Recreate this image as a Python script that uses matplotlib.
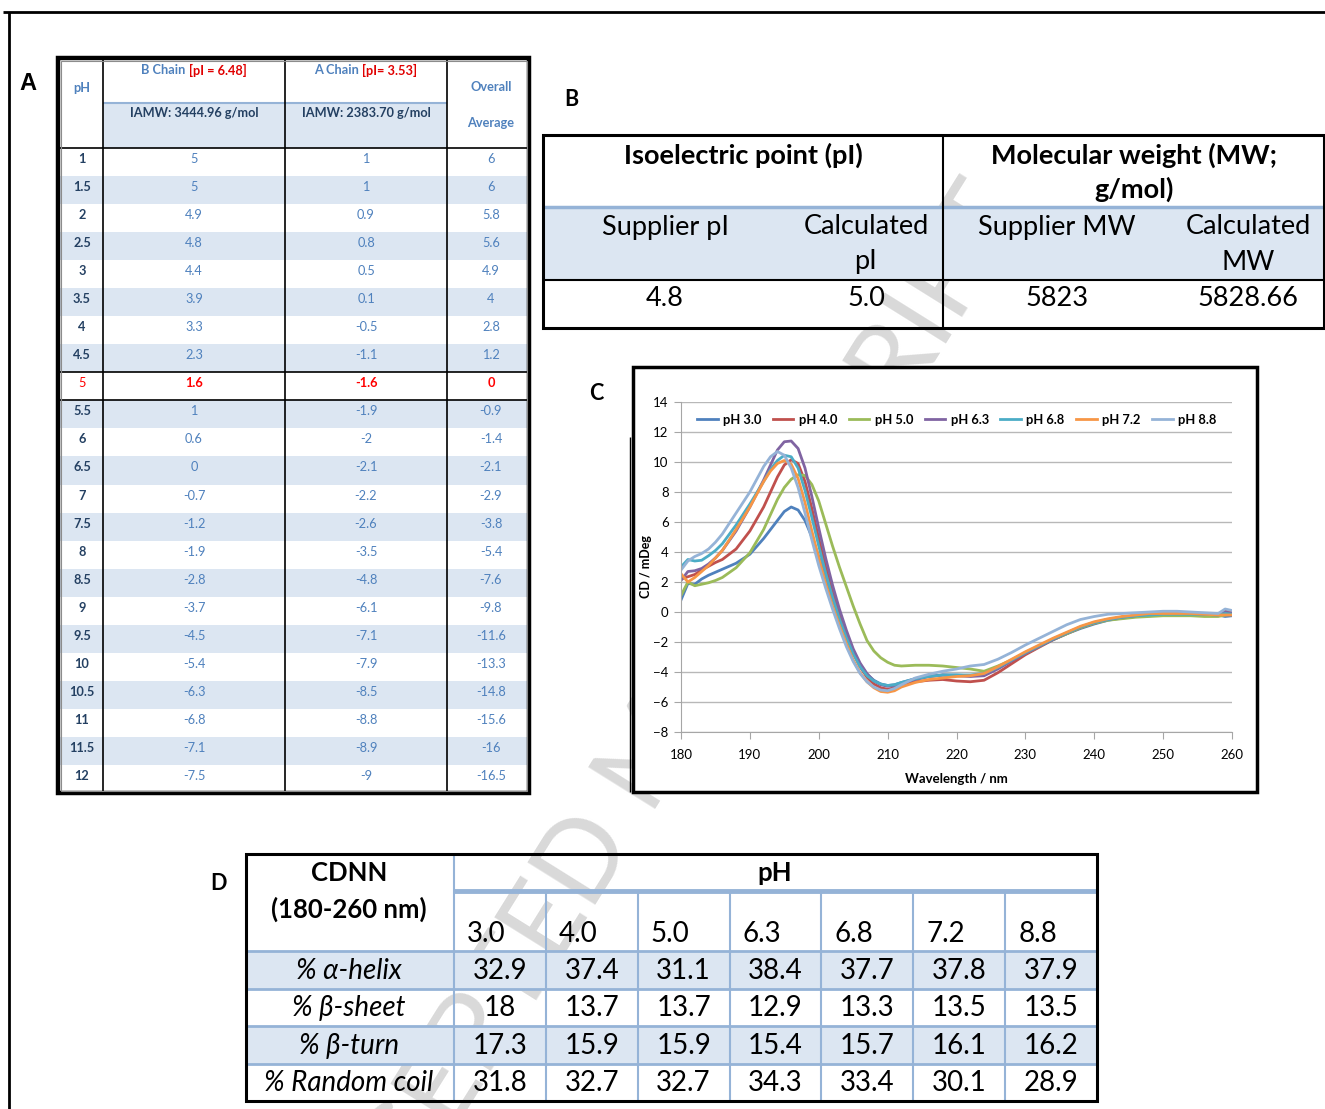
import matplotlib
matplotlib.use('Agg')
import numpy as np
import matplotlib.pyplot as plt
from matplotlib.patches import Rectangle

plt.rcParams['font.family'] = ['Lato', 'DejaVu Sans']

W, H = 1325, 1109

# --- A: net charge of each chain vs pH ---
ph_steps = [1, 1.5, 2, 2.5, 3, 3.5, 4, 4.5, 5, 5.5, 6, 6.5, 7, 7.5, 8, 8.5, 9, 9.5,
            10, 10.5, 11, 11.5, 12]
b_chain = [5, 5, 4.9, 4.8, 4.4, 3.9, 3.3, 2.3, 1.6, 1, 0.6, 0, -0.7, -1.2, -1.9, -2.8,
           -3.7, -4.5, -5.4, -6.3, -6.8, -7.1, -7.5]
a_chain = [1, 1, 0.9, 0.8, 0.5, 0.1, -0.5, -1.1, -1.6, -1.9, -2, -2.1, -2.2, -2.6, -3.5,
           -4.8, -6.1, -7.1, -7.9, -8.5, -8.8, -8.9, -9]
overall = [6, 6, 5.8, 5.6, 4.9, 4, 2.8, 1.2, 0, -0.9, -1.4, -2.1, -2.9, -3.8, -5.4, -7.6,
           -9.8, -11.6, -13.3, -14.8, -15.6, -16, -16.5]

# --- B: pI and MW ---
supplier_pi, calculated_pi = 4.8, 5.0
supplier_mw, calculated_mw = 5823, 5828.66

# --- C: CD spectra ---
wavelength = [180, 181, 182, 183, 184, 185, 186, 188, 190, 192, 193, 194, 195, 196, 197,
              198, 199, 200, 201, 202, 203, 204, 205, 206, 207, 208, 209, 210, 211, 212,
              214, 216, 218, 220, 222, 224, 226, 228, 230, 232, 234, 236, 238, 240, 242,
              244, 246, 248, 250, 252, 254, 256, 258, 259, 260]
cd_ph30 = [0.8, 1.9, 1.85, 2.2, 2.45, 2.65, 2.85, 3.25, 3.85, 4.9, 5.5, 6.1, 6.7, 7.0, 6.8,
           6.1, 5.0, 3.7, 2.3, 0.9, -0.4, -1.6, -2.7, -3.5, -4.15, -4.55, -4.8, -4.9, -4.85, -4.7,
           -4.45, -4.3, -4.2, -4.2, -4.25, -4.2, -3.75, -3.25, -2.75, -2.3, -1.85, -1.45, -1.1, -0.8, -0.55,
           -0.4, -0.3, -0.25, -0.2, -0.2, -0.2, -0.2, -0.2, -0.3, -0.25]
cd_ph40 = [2.2, 2.35, 2.5, 2.8, 3.05, 3.3, 3.5, 4.2, 5.4, 7.0, 8.0, 9.0, 9.8, 10.15, 9.9,
           8.7, 6.9, 4.9, 3.0, 1.3, -0.2, -1.5, -2.7, -3.65, -4.35, -4.8, -5.05, -5.15, -5.05, -4.85,
           -4.65, -4.55, -4.5, -4.6, -4.65, -4.55, -4.05, -3.45, -2.85, -2.35, -1.85, -1.45, -1.05, -0.75, -0.5,
           -0.35, -0.25, -0.2, -0.15, -0.15, -0.15, -0.2, -0.2, 0.1, 0.0]
cd_ph50 = [1.1, 2.0, 1.75, 1.85, 1.95, 2.1, 2.3, 2.95, 3.95, 5.5, 6.5, 7.5, 8.3, 8.85, 9.15,
           9.1, 8.5, 7.4, 5.9, 4.4, 3.0, 1.7, 0.4, -0.8, -1.9, -2.6, -3.05, -3.35, -3.55, -3.6,
           -3.55, -3.55, -3.6, -3.7, -3.8, -3.95, -3.6, -3.2, -2.75, -2.3, -1.85, -1.45, -1.05, -0.75, -0.55,
           -0.45, -0.35, -0.3, -0.25, -0.25, -0.25, -0.3, -0.3, -0.2, -0.15]
cd_ph63 = [2.1, 2.7, 2.75, 2.9, 3.2, 3.6, 4.1, 5.4, 7.0, 8.8, 9.8, 10.8, 11.35, 11.4, 10.9,
           9.6, 7.7, 5.6, 3.6, 1.8, 0.2, -1.2, -2.45, -3.4, -4.1, -4.6, -4.85, -4.95, -4.9, -4.75,
           -4.5, -4.3, -4.2, -4.25, -4.3, -4.25, -3.8, -3.25, -2.75, -2.3, -1.85, -1.4, -1.0, -0.7, -0.5,
           -0.35, -0.25, -0.15, -0.1, -0.1, -0.1, -0.15, -0.2, 0.0, -0.1]
cd_ph68 = [3.0, 3.5, 3.4, 3.45, 3.75, 4.1, 4.55, 5.8, 7.2, 8.7, 9.5, 10.1, 10.45, 10.35, 9.6,
           8.1, 6.3, 4.4, 2.6, 1.0, -0.45, -1.7, -2.8, -3.65, -4.25, -4.6, -4.8, -4.9, -4.85, -4.7,
           -4.45, -4.3, -4.2, -4.2, -4.2, -4.1, -3.7, -3.2, -2.7, -2.25, -1.8, -1.4, -1.0, -0.7, -0.5,
           -0.35, -0.25, -0.2, -0.15, -0.15, -0.15, -0.15, -0.2, -0.1, -0.15]
cd_ph72 = [2.55, 2.0, 2.3, 2.7, 3.1, 3.6, 4.1, 5.5, 7.0, 8.7, 9.4, 9.9, 10.1, 9.85, 8.9,
           7.3, 5.4, 3.6, 1.9, 0.4, -0.9, -2.1, -3.2, -4.05, -4.65, -5.05, -5.3, -5.35, -5.25, -5.0,
           -4.7, -4.5, -4.4, -4.3, -4.25, -4.1, -3.65, -3.15, -2.65, -2.2, -1.75, -1.35, -0.95, -0.65, -0.45,
           -0.3, -0.2, -0.1, -0.1, -0.1, -0.1, -0.15, -0.2, -0.2, -0.2]
cd_ph88 = [2.8, 3.4, 3.7, 3.9, 4.2, 4.65, 5.2, 6.6, 8.0, 9.7, 10.35, 10.7, 10.45, 9.6, 8.3,
           6.6, 4.8, 3.1, 1.6, 0.2, -1.1, -2.3, -3.3, -4.1, -4.65, -5.0, -5.2, -5.25, -5.1, -4.85,
           -4.4, -4.15, -3.95, -3.8, -3.6, -3.5, -3.15, -2.7, -2.2, -1.75, -1.3, -0.85, -0.5, -0.3, -0.15,
           -0.1, -0.05, 0.0, 0.05, 0.05, 0.0, -0.05, -0.1, 0.2, 0.1]
spectra = [cd_ph30, cd_ph40, cd_ph50, cd_ph63, cd_ph68, cd_ph72, cd_ph88]
spectra_labels = ['pH 3.0', 'pH 4.0', 'pH 5.0', 'pH 6.3', 'pH 6.8', 'pH 7.2', 'pH 8.8']
spectra_colors = ['#4F81BD', '#C0504D', '#9BBB59', '#8064A2', '#4BACC6', '#F79646', '#95B3D7']

# --- D: CDNN secondary structure ---
cdnn_ph = ['3.0', '4.0', '5.0', '6.3', '6.8', '7.2', '8.8']
structures = ['% α-helix', '% β-sheet', '% β-turn', '% Random coil']
fractions = [[32.9, 37.4, 31.1, 38.4, 37.7, 37.8, 37.9],
             [18, 13.7, 13.7, 12.9, 13.3, 13.5, 13.5],
             [17.3, 15.9, 15.9, 15.4, 15.7, 16.1, 16.2],
             [31.8, 32.7, 32.7, 34.3, 33.4, 30.1, 28.9]]

LB_FILL = '#DCE6F2'
LB_LINE = '#95B3D7'
VAL_BLUE = '#4F81BD'
NAVY = '#244062'
FS_A = 9.2     # table A
FS_B = 19.5    # table B
FS_D = 20      # table D body
FS_DH = 18.5   # table D header

fig = plt.figure(figsize=(W / 100, H / 100), dpi=100)
base = fig.add_axes([0, 0, 1, 1])
base.set_xlim(0, W)
base.set_ylim(H, 0)
base.axis('off')


def box(x0, y0, x1, y1, **kw):
    base.add_patch(Rectangle((x0, y0), x1 - x0, y1 - y0, **kw))


def hline(y, x0, x1, color='black', lw=1.0, z=3):
    base.plot([x0, x1], [y, y], color=color, lw=lw, solid_capstyle='butt', zorder=z)


def vline(x, y0, y1, color='black', lw=1.0, z=3):
    base.plot([x, x], [y0, y1], color=color, lw=lw, solid_capstyle='butt', zorder=z)


def txt(x, y, s, size, ha='center', va='center', **kw):
    return base.text(x, y, s, fontsize=size, ha=ha, va=va, zorder=5, **kw)


def two_tone(x, y, parts, size):
    pieces = [txt(0, y, s, size, ha='left', color=c, fontweight='bold') for s, c in parts]
    fig.canvas.draw()
    r = fig.canvas.get_renderer()
    widths = [p.get_window_extent(r).width for p in pieces]
    gap = 3
    x0 = x - (sum(widths) + gap * (len(widths) - 1)) / 2
    for p, w in zip(pieces, widths):
        p.set_x(x0)
        x0 += w + gap


# watermark running diagonally under the panels
base.text(655, 752, 'ACCEPTED MANUSCRIPT', rotation=58, fontsize=80, color='#D9D9D9',
          ha='center', va='center', zorder=0, rotation_mode='anchor', clip_on=True)

# page frame
hline(12, 3, W, lw=2)
vline(9, 12, H, lw=2)

# panel letters
txt(28, 83, 'A', 17, fontweight='bold', family='Liberation Sans')
txt(571, 99, 'B', 15.5, fontweight='bold')
txt(596, 394, 'C', 15.5, fontweight='bold')
txt(218, 883, 'D', 15.5, fontweight='bold')

# ---------- table A ----------
ax0, ax1 = 58, 529
cols_a = [58, 103, 285, 447, 529]
top_a, head_a, bot_a = 58, 148, 793
row_h = (bot_a - head_a) / len(ph_steps)
box(103, 103, 447, head_a, fc=LB_FILL, ec='none', zorder=1)
hline(103, 103, 447, color=LB_LINE, lw=1.5)
for i, (p, b, a, o) in enumerate(zip(ph_steps, b_chain, a_chain, overall)):
    y0 = head_a + i * row_h
    if i % 2 == 1:
        box(ax0, y0, ax1, y0 + row_h, fc=LB_FILL, ec='none', zorder=1)
    yc = y0 + 11
    if p == 5:
        txt(82, yc, f'{p:g}', FS_A, color='#FF0000')
        for xc, v in zip([194, 366, 491], [b, a, o]):
            txt(xc, yc, f'{v:g}', FS_A, color='#FF0000', fontweight='bold')
        hline(y0, ax0, ax1, lw=1.2)
        hline(y0 + row_h, ax0, ax1, lw=1.2)
    else:
        txt(82, yc, f'{p:g}', FS_A, color=NAVY, fontweight='bold')
        for xc, v in zip([194, 366, 491], [b, a, o]):
            txt(xc, yc, f'{v:g}', FS_A, color=VAL_BLUE)
hline(head_a, ax0, ax1, lw=1.2)
for x in cols_a[1:-1]:
    vline(x, top_a, bot_a, lw=1.2)
box(ax0, top_a, ax1, bot_a, fc='none', ec='black', lw=3.2, zorder=4)
box(ax0 + 2.5, top_a + 2.5, ax1 - 2.5, bot_a - 2.5, fc='none', ec='#8C8C8C', lw=0.8, zorder=4)
txt(82, 88, 'pH', FS_A, color=VAL_BLUE, fontweight='bold')
txt(491, 87, 'Overall', FS_A, color=VAL_BLUE, fontweight='bold')
txt(491, 123, 'Average', FS_A, color=VAL_BLUE, fontweight='bold')
txt(194, 113, 'IAMW: 3444.96 g/mol', FS_A, color=NAVY, fontweight='bold')
txt(366, 113, 'IAMW: 2383.70 g/mol', FS_A, color=NAVY, fontweight='bold')

# ---------- table B ----------
bx0, bx1, by0, by1 = 543, 1324, 135, 328
box(bx0, 207, bx1, 280, fc=LB_FILL, ec='none', zorder=1)
hline(207, bx0, bx1, color=LB_LINE, lw=2.5)
hline(280, bx0, bx1, lw=1.5)
vline(943, by0, by1, lw=1.5)
box(bx0, by0, bx1, by1, fc='none', ec='black', lw=2.2, zorder=4)
txt(743, 155, 'Isoelectric point (pI)', FS_B, fontweight='bold')
txt(1134, 155, 'Molecular weight (MW;', FS_B, fontweight='bold')
txt(1134, 189, 'g/mol)', FS_B, fontweight='bold')
txt(665, 227, 'Supplier pI', FS_B)
txt(866, 227, 'Calculated', FS_B)
txt(866, 262, 'pI', FS_B)
txt(1057, 227, 'Supplier MW', FS_B)
txt(1248, 227, 'Calculated', FS_B)
txt(1248, 262, 'MW', FS_B)
txt(665, 299, f'{supplier_pi:.1f}', FS_B)
txt(866, 299, f'{calculated_pi:.1f}', FS_B)
txt(1057, 299, f'{supplier_mw:d}', FS_B)
txt(1248, 299, f'{calculated_mw:.2f}', FS_B)

# ---------- panel C frame ----------
box(633, 367, 1257, 792, fc='white', ec='black', lw=2.5, zorder=2)
vline(630, 437, 792, lw=1)

# ---------- table D ----------
dx0, dx1, dy0, dy1 = 246, 1097, 854, 1101
col_d = np.linspace(454, dx1, len(cdnn_ph) + 1)
row_d = np.linspace(951, dy1, len(structures) + 1)
for i in range(len(structures)):
    if i % 2 == 0:
        box(dx0, row_d[i], dx1, row_d[i + 1], fc=LB_FILL, ec='none', zorder=1)
for y in row_d[:-1]:
    hline(y, dx0, dx1, color=LB_LINE, lw=2)
hline(891, 454, dx1, color=LB_LINE, lw=3.5)
vline(454, dy0, dy1, color=LB_LINE, lw=1.5)
for x in col_d[1:-1]:
    vline(x, 891, dy1, color=LB_LINE, lw=1.5)
box(dx0, dy0, dx1, dy1, fc='none', ec='black', lw=2.2, zorder=4)
txt(349, 873, 'CDNN', FS_DH, fontweight='bold')
txt(349, 909, '(180-260 nm)', FS_DH, fontweight='bold')
txt(775, 873, 'pH', FS_DH, fontweight='bold')
for j, p in enumerate(cdnn_ph):
    txt(col_d[j] + 13, 934, p, FS_D, ha='left')
for i, (name, vals) in enumerate(zip(structures, fractions)):
    yc = (row_d[i] + row_d[i + 1]) / 2 + 1
    txt(349, yc, name, FS_D, style='italic')
    for j, v in enumerate(vals):
        txt((col_d[j] + col_d[j + 1]) / 2, yc, f'{v:g}', FS_D)

# header of table A with coloured pI values
two_tone(194, 70, [('B Chain', VAL_BLUE), ('[pI = 6.48]', '#E00000')], FS_A)
two_tone(366, 70, [('A Chain', VAL_BLUE), ('[pI= 3.53]', '#E00000')], FS_A)

# ---------- panel C: CD spectra ----------
cd = fig.add_axes([681 / W, 1 - 732 / H, 551 / W, 330 / H])
for vals, lab, col in zip(spectra, spectra_labels, spectra_colors):
    cd.plot(wavelength, vals, color=col, lw=2, label=lab)
cd.set_xlim(180, 260)
cd.set_ylim(-8, 14)
cd.set_xticks(range(180, 261, 10))
cd.set_yticks(range(-8, 15, 2))
cd.set_axisbelow(True)
cd.grid(axis='y', color='#B8B8B8', lw=1)
for s in ['top', 'right']:
    cd.spines[s].set_visible(False)
for s in ['left', 'bottom']:
    cd.spines[s].set_color('#A6A6A6')
cd.tick_params(direction='out', length=5, color='#A6A6A6', labelsize=9.5, pad=4)
cd.tick_params(axis='x', pad=7)
cd.set_xlabel('Wavelength / nm', fontsize=9.5, fontweight='bold', labelpad=9)
cd.set_ylabel('CD / mDeg', fontsize=9, fontweight='bold', labelpad=1)
cd.legend(loc='upper center', bbox_to_anchor=(0.5, 1.0), ncol=7, frameon=False,
          handlelength=1.6, handletextpad=0.4, columnspacing=0.9,
          prop={'weight': 'bold', 'size': 9.3})

fig.savefig('out.png', dpi=100)
